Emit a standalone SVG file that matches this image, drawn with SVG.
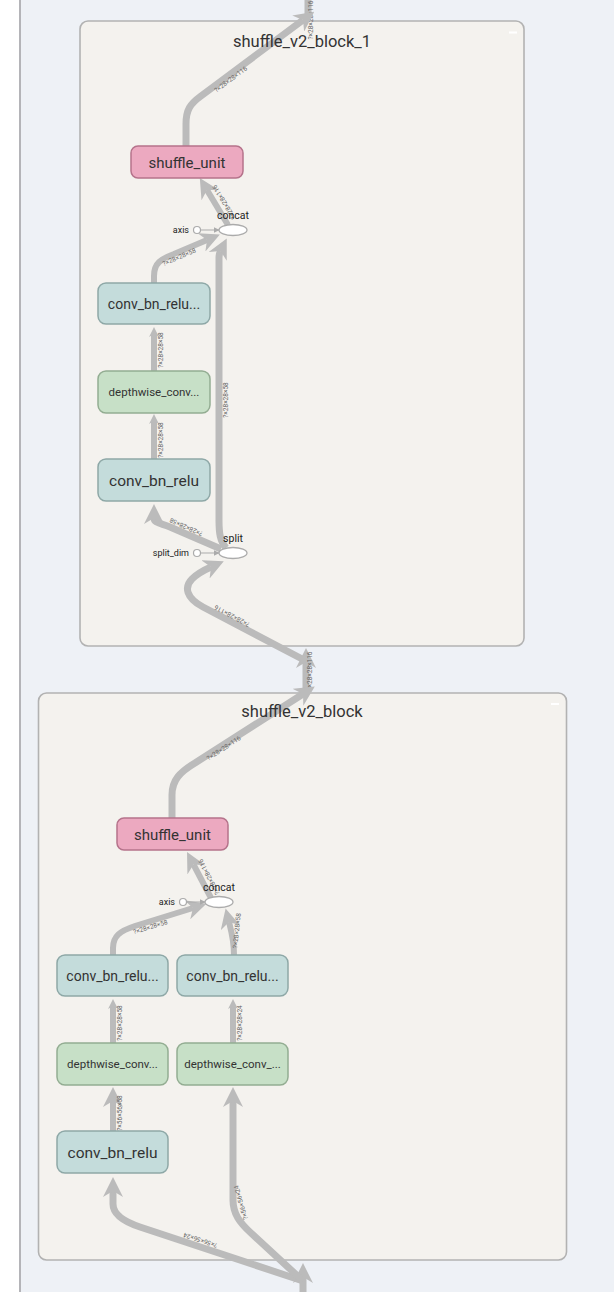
<svg xmlns="http://www.w3.org/2000/svg" width="614" height="1292" viewBox="0 0 614 1292">
  <style>
    text { font-family: Roboto, "Liberation Sans", sans-serif; fill: #333; }
    .title { font-size: 16.5px; text-anchor: middle; }
    .group-box { fill: #f4f2ee; stroke: #b2b2b2; stroke-width: 1.6; }
    .collapse { fill: #ffffff; }
    .conv rect { fill: #c4dcdb; stroke: #8ea8a7; stroke-width: 1.5; }
    .dw rect { fill: #c7e0c7; stroke: #93ad92; stroke-width: 1.5; }
    .unit rect { fill: #eca9c0; stroke: #b5738b; stroke-width: 1.5; }
    .op ellipse { fill: #ffffff; stroke: #ababab; stroke-width: 1.3; }
    .const circle { fill: #ffffff; stroke: #ababab; stroke-width: 1.2; }
    .name { text-anchor: middle; }
    .small { font-size: 10.5px; text-anchor: middle; fill: #222; }
    .cname { font-size: 9px; text-anchor: end; fill: #222; }
    .edge { fill: none; stroke: #bbbbbb; stroke-linecap: butt; stroke-linejoin: round; }
    .thick { stroke-width: 7; marker-end: url(#arrow-big); }
    .mid { stroke-width: 6; marker-end: url(#arrow-big); }
    .short { stroke-width: 6; marker-end: url(#arrow-small); }
    .ctl { fill: none; stroke: #ababab; stroke-width: 1; marker-end: url(#arrow-tiny); }
    .elabel { font-size: 6.5px; text-anchor: middle; fill: #666; }
  </style>
  <defs>
    <marker id="arrow-big" viewBox="0 0 10 10" refX="3" refY="5" markerWidth="20" markerHeight="20" markerUnits="userSpaceOnUse" orient="auto">
      <path d="M0,0 L10,5 L0,10 L3,5 z" fill="#bbbbbb"/>
    </marker>
    <marker id="arrow-small" viewBox="0 0 10 10" refX="3" refY="5" markerWidth="10" markerHeight="10" markerUnits="userSpaceOnUse" orient="auto">
      <path d="M0,0 L10,5 L0,10 L3,5 z" fill="#bbbbbb"/>
    </marker>
    <marker id="arrow-tiny" viewBox="0 0 10 10" refX="9" refY="5" markerWidth="6" markerHeight="6" markerUnits="userSpaceOnUse" orient="auto">
      <path d="M0,0 L10,5 L0,10 z" fill="#ababab"/>
    </marker>
  </defs>

  <!-- canvas -->
  <rect x="0" y="0" width="614" height="1292" fill="#eef1f6"/>
  <rect x="0" y="0" width="19" height="1292" fill="#ffffff"/>
  <rect x="19" y="0" width="2" height="1292" fill="#b4b4b8"/>

  <!-- expanded group frames -->
  <g id="shuffle_v2_block_1_frame">
    <rect class="group-box" x="80" y="21" width="444" height="625" rx="8"/>
    <rect class="collapse" x="509" y="31.5" width="8" height="2"/>
  </g>
  <g id="shuffle_v2_block_frame">
    <rect class="group-box" x="38.5" y="693" width="528" height="567" rx="8"/>
    <rect class="collapse" x="551" y="703" width="8" height="2"/>
  </g>

  <!-- connectors -->
  <g id="edges">
    <!-- links between groups -->
    <path class="edge" stroke-width="7" d="M308,-4 L308,16"/>
    <path class="edge thick" d="M306,693 L306,662"/>
    <path class="edge thick" d="M303,1296 L303,1277"/>
    <text class="elabel" transform="translate(313,20) rotate(-90)">?×28×28×116</text>
    <text class="elabel" transform="translate(312,671) rotate(-90)">?×28×28×116</text>

    <!-- shuffle_v2_block_1 -->
    <path class="edge thick" d="M186,146 L186,124 C186,110 190,104 201,96 L303,20"/>
    <path class="edge mid" d="M228,225 L207,190"/>
    <path class="edge mid" d="M154,283 L154,276 C154,263 161,259 174,254 L207,240"/>
    <path class="edge thick" d="M226,548 C220,541 219,533 219,520 L219,258 C219,255 219.5,253 220.5,251"/>
    <path class="edge short" d="M154,371 L154,334"/>
    <path class="edge short" d="M154,459 L154,421"/>
    <path class="edge thick" d="M221,549 L170,527 C160,523 154,523 154,518"/>
    <path class="edge thick" d="M306,661 L203,607 C186,598 184,587 192,579 C196,575 202,571 211,567"/>
    <path class="ctl" d="M201,230 L219,230"/>
    <path class="ctl" d="M201,553 L219,553"/>

    <text class="elabel" transform="translate(232,81) rotate(-37)">?×28×28×116</text>
    <text class="elabel" transform="translate(226,201) rotate(-121)">?×28×28×116</text>
    <text class="elabel" transform="translate(180,259) rotate(-23)">?×28×28×58</text>
    <text class="elabel" transform="translate(228,400) rotate(-90)">?×28×28×58</text>
    <text class="elabel" transform="translate(162.5,350) rotate(-90)">?×28×28×58</text>
    <text class="elabel" transform="translate(162.5,440) rotate(-90)">?×28×28×58</text>
    <text class="elabel" transform="translate(187,525) rotate(204)">?×28×28×58</text>
    <text class="elabel" transform="translate(233,614) rotate(208)">?×28×28×116</text>

    <!-- shuffle_v2_block -->
    <path class="edge thick" d="M172,818 L172,795 C172,780 180,772 195,763 L303,694"/>
    <path class="edge mid" d="M211,898 L193.5,864.5"/>
    <path class="edge mid" d="M113,955 L113,948 C113,936 120,931 135,926 L193,908"/>
    <path class="edge mid" d="M234,955 C234,940 231,930 229,922"/>
    <path class="edge short" d="M113,1043 L113,1006"/>
    <path class="edge short" d="M233,1043 L233,1006"/>
    <path class="edge mid" d="M113,1131 L113,1101"/>
    <path class="edge thick" d="M303,1281 L140,1227 C122,1221 113,1214 113,1204 L113,1191"/>
    <path class="edge thick" d="M303,1281 L251,1233 C240,1223 233,1214 233,1200 L233,1101"/>
    <path class="ctl" d="M187,902 L205,902"/>

    <text class="elabel" transform="translate(225,750) rotate(-33)">?×28×28×116</text>
    <text class="elabel" transform="translate(211,876) rotate(-117)">?×28×28×116</text>
    <text class="elabel" transform="translate(151,929) rotate(-17)">?×28×28×58</text>
    <text class="elabel" transform="translate(239,931) rotate(-84)">?×28×28×58</text>
    <text class="elabel" transform="translate(122,1023) rotate(-90)">?×28×28×58</text>
    <text class="elabel" transform="translate(242,1023) rotate(-90)">?×28×28×24</text>
    <text class="elabel" transform="translate(122,1113) rotate(-90)">?×56×56×58</text>
    <text class="elabel" transform="translate(201,1238) rotate(198)">?×56×56×24</text>
    <text class="elabel" transform="translate(243,1202) rotate(-106)">?×56×56×24</text>
  </g>

  <!-- group titles sit above the edges -->
  <g id="shuffle_v2_block_1">
    <text class="title" x="302" y="47">shuffle_v2_block_1</text>
  </g>
  <g id="shuffle_v2_block">
    <text class="title" x="302" y="717">shuffle_v2_block</text>
  </g>

  <!-- nodes of shuffle_v2_block_1 -->
  <g id="b1_shuffle_unit" class="unit">
    <rect x="131" y="146" width="112" height="32" rx="7"/>
    <text class="name" x="187" y="167.5" font-size="15">shuffle_unit</text>
  </g>
  <g id="b1_concat" class="op">
    <ellipse cx="233" cy="230" rx="14" ry="5.5"/>
    <text class="small" x="233" y="219">concat</text>
  </g>
  <g id="b1_axis" class="const">
    <circle cx="197" cy="230" r="3.5"/>
    <text class="cname" x="189" y="233">axis</text>
  </g>
  <g id="b1_conv_bn_relu_1" class="conv">
    <rect x="98" y="283" width="112" height="41" rx="8"/>
    <text class="name" x="154" y="308.5" font-size="14">conv_bn_relu...</text>
  </g>
  <g id="b1_depthwise_conv" class="dw">
    <rect x="98" y="371" width="112" height="42" rx="8"/>
    <text class="name" x="154" y="396" font-size="11.5">depthwise_conv...</text>
  </g>
  <g id="b1_conv_bn_relu" class="conv">
    <rect x="98" y="459" width="112" height="42" rx="8"/>
    <text class="name" x="154" y="485.5" font-size="15.5">conv_bn_relu</text>
  </g>
  <g id="b1_split" class="op">
    <ellipse cx="233" cy="553" rx="14" ry="5.5"/>
    <text class="small" x="233" y="542">split</text>
  </g>
  <g id="b1_split_dim" class="const">
    <circle cx="197" cy="553" r="3.5"/>
    <text class="cname" x="189" y="556">split_dim</text>
  </g>

  <!-- nodes of shuffle_v2_block -->
  <g id="b2_shuffle_unit" class="unit">
    <rect x="117" y="818" width="111" height="32" rx="7"/>
    <text class="name" x="172.5" y="839.5" font-size="15">shuffle_unit</text>
  </g>
  <g id="b2_concat" class="op">
    <ellipse cx="219" cy="902" rx="14" ry="5.5"/>
    <text class="small" x="219" y="891">concat</text>
  </g>
  <g id="b2_axis" class="const">
    <circle cx="183" cy="902" r="3.5"/>
    <text class="cname" x="175" y="905">axis</text>
  </g>
  <g id="b2_conv_bn_relu_1" class="conv">
    <rect x="57" y="955" width="111" height="41" rx="8"/>
    <text class="name" x="112.5" y="980.5" font-size="14">conv_bn_relu...</text>
  </g>
  <g id="b2_conv_bn_relu_2" class="conv">
    <rect x="177" y="955" width="111" height="41" rx="8"/>
    <text class="name" x="232.5" y="980.5" font-size="14">conv_bn_relu...</text>
  </g>
  <g id="b2_depthwise_conv" class="dw">
    <rect x="57" y="1043" width="111" height="42" rx="8"/>
    <text class="name" x="112.5" y="1068" font-size="11.5">depthwise_conv...</text>
  </g>
  <g id="b2_depthwise_conv_1" class="dw">
    <rect x="177" y="1043" width="111" height="42" rx="8"/>
    <text class="name" x="232.5" y="1068" font-size="11.5">depthwise_conv_...</text>
  </g>
  <g id="b2_conv_bn_relu" class="conv">
    <rect x="57" y="1131" width="111" height="42" rx="8"/>
    <text class="name" x="112.5" y="1157.5" font-size="15.5">conv_bn_relu</text>
  </g>
</svg>
